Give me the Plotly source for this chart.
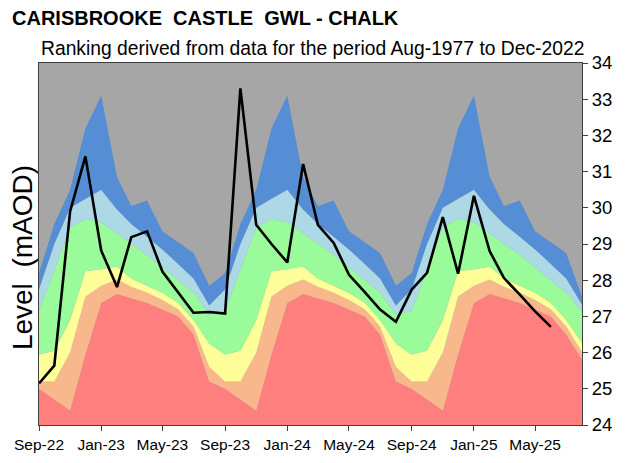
import pandas as pd
import plotly.graph_objects as go

# monthly x positions, Sep-2022 .. Aug-2025
months = pd.date_range("2022-09-01", "2025-08-01", freq="MS")

# band boundaries (mAOD), Sep..Aug for each year
band_max = [28.2, 29.55, 30.5, 32.2, 33.1, 30.85, 30.05, 30.2, 29.35, 29.05, 28.75, 27.85,
            28.2, 29.55, 30.5, 32.2, 33.1, 30.85, 30.05, 30.2, 29.35, 29.05, 28.75, 27.85,
            28.2, 29.55, 30.5, 32.2, 33.1, 30.85, 30.05, 30.2, 29.35, 29.05, 28.75, 27.55]
band_high = [27.75, 29.0, 30.0, 30.25, 30.5, 29.95, 29.55, 29.2, 28.85, 28.45, 28.05, 27.3,
             27.75, 29.0, 30.0, 30.25, 30.5, 29.95, 29.55, 29.2, 28.85, 28.45, 28.05, 27.3,
             27.75, 29.0, 30.0, 30.25, 30.5, 29.95, 29.55, 29.2, 28.85, 28.45, 28.05, 27.33]
band_above = [27.15, 28.3, 29.45, 29.7, 29.6, 29.3, 29.0, 28.7, 28.35, 28.0, 27.65, 27.05,
              27.15, 28.3, 29.45, 29.7, 29.6, 29.3, 29.0, 28.7, 28.35, 28.0, 27.65, 27.05,
              27.15, 28.3, 29.45, 29.7, 29.6, 29.3, 29.0, 28.7, 28.35, 28.0, 27.65, 27.15]
band_normal = [25.95, 26.05, 26.9, 28.25, 28.3, 28.38, 28.05, 27.85, 27.65, 27.38, 26.9, 26.25,
               25.95, 26.05, 26.9, 28.25, 28.3, 28.38, 28.05, 27.85, 27.65, 27.38, 26.9, 26.25,
               25.95, 26.05, 26.9, 28.25, 28.3, 28.38, 28.05, 27.85, 27.65, 27.38, 26.9, 26.27]
band_below = [25.2, 25.2, 26.0, 27.55, 27.85, 28.02, 27.82, 27.65, 27.45, 27.2, 26.72, 25.6,
              25.2, 25.2, 26.0, 27.55, 27.85, 28.02, 27.82, 27.65, 27.45, 27.2, 26.72, 25.6,
              25.2, 25.2, 26.0, 27.55, 27.85, 28.02, 27.82, 27.65, 27.45, 27.2, 26.72, 26.02]
band_low = [25.0, 24.7, 24.4, 25.95, 27.37, 27.62, 27.5, 27.37, 27.19, 27.0, 26.5, 25.2,
            25.0, 24.7, 24.4, 25.95, 27.37, 27.62, 27.5, 27.37, 27.19, 27.0, 26.5, 25.2,
            25.0, 24.7, 24.4, 25.95, 27.37, 27.62, 27.5, 27.37, 27.19, 27.0, 26.5, 25.8]

# observed level, Sep-2022 .. Jun-2025
level = [25.15, 25.64, 29.9, 31.42, 28.82, 27.81, 29.19, 29.35, 28.24, 27.65, 27.1, 27.12,
         27.08, 33.3, 29.53, 29.0, 28.49, 31.21, 29.53, 29.03, 28.15, 27.67, 27.19, 26.85,
         27.74, 28.2, 29.74, 28.18, 30.33, 28.8, 28.06, 27.6, 27.14, 26.71]

tick_dates = ["2022-09-01", "2023-01-01", "2023-05-01", "2023-09-01", "2024-01-01",
              "2024-05-01", "2024-09-01", "2025-01-01", "2025-05-01"]
tick_labels = ["Sep-22", "Jan-23", "May-23", "Sep-23", "Jan-24",
               "May-24", "Sep-24", "Jan-25", "May-25"]

fig = go.Figure()

# stacked colour bands, bottom up (grey above is the plot background)
bands = [
    (band_low, "#FF7F7F", "tozeroy"),
    (band_below, "#F8B88C", "tonexty"),
    (band_normal, "#FFFF99", "tonexty"),
    (band_above, "#99FB99", "tonexty"),
    (band_high, "#ADD8E6", "tonexty"),
    (band_max, "#558ED5", "tonexty"),
]
for vals, col, fill in bands:
    fig.add_trace(go.Scatter(
        x=months, y=vals, mode="lines", line=dict(width=0, color=col),
        fill=fill, fillcolor=col, hoverinfo="skip", showlegend=False,
    ))

fig.add_trace(go.Scatter(
    x=months[:len(level)], y=level, mode="lines",
    line=dict(color="black", width=2.6), showlegend=False,
))

# page body adds 8px, so margins are offset to keep the plot box in place
fig.update_layout(
    width=635, height=463,
    margin=dict(l=31, r=61, t=55, b=46),
    paper_bgcolor="white",
    plot_bgcolor="#A6A6A6",
    font=dict(family="Liberation Sans, Arial", color="black"),
    showlegend=False,
)

fig.update_xaxes(
    type="date", range=["2022-09-01", "2025-08-01"],
    tickvals=tick_dates, ticktext=tick_labels, automargin=False,
    tickfont=dict(size=15.5), ticks="outside", ticklen=5, tickcolor="#404040",
    showline=True, linecolor="#404040", linewidth=1, mirror=True,
    showgrid=False, zeroline=False,
)
fig.update_yaxes(
    side="right", range=[24, 34], dtick=1, automargin=False,
    tickfont=dict(size=18.5), ticks="outside", ticklen=5, tickcolor="#404040",
    showline=True, linecolor="#404040", linewidth=1, mirror=True,
    showgrid=False, zeroline=False,
)

fig.add_annotation(
    text="<b>CARISBROOKE  CASTLE  GWL - CHALK</b>",
    xref="paper", yref="paper", x=-0.054, y=1.124,
    xanchor="left", yanchor="middle", showarrow=False,
    font=dict(size=20),
)
fig.add_annotation(
    text="Ranking derived from data for the period Aug-1977 to Dec-2022",
    xref="paper", yref="paper", x=0.0, y=1.041,
    xanchor="left", yanchor="middle", showarrow=False,
    font=dict(size=19.3),
)
fig.add_annotation(
    text="Level  (mAOD)",
    xref="paper", yref="paper", x=-0.03, y=0.463,
    xanchor="center", yanchor="middle", showarrow=False, textangle=-90,
    font=dict(size=28),
)

fig.write_html("out.html")
